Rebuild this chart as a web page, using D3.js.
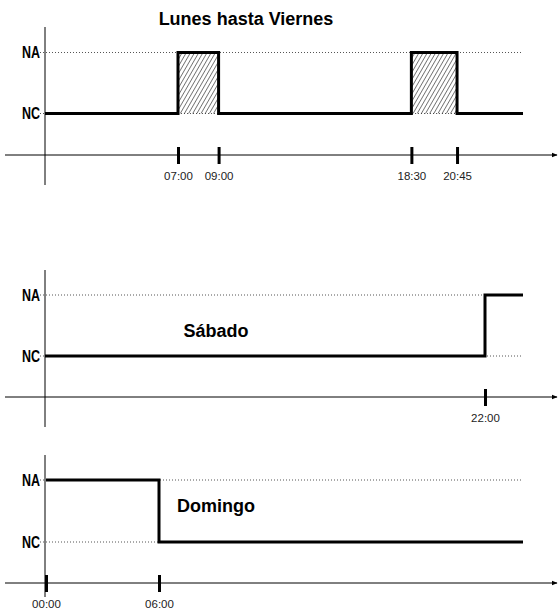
<!DOCTYPE html>
<html>
<head>
<meta charset="utf-8">
<script src="https://cdn.jsdelivr.net/npm/d3@7"></script>
<style>
  body { margin: 0; background: #fff; }
  svg { font-family: "Liberation Sans", Arial, sans-serif; }
</style>
</head>
<body>
<svg id="chart" width="558" height="614"></svg>
<script>
// estados y horarios (horas decimales)
const levels = ['NA', 'NC'];

const weekdayTimes = [0, 7, 9, 18.5, 20.75, 24];
const weekdayStates = ['NC', 'NA', 'NC', 'NA', 'NC', 'NC'];
const weekdayTicks = [7, 9, 18.5, 20.75];

const saturdayTimes = [0, 22, 24];
const saturdayStates = ['NC', 'NA', 'NA'];
const saturdayTicks = [22];

const sundayTimes = [0, 6, 24];
const sundayStates = ['NA', 'NC', 'NC'];
const sundayTicks = [0, 6];

const panels = [
    { title: 'Lunes hasta Viernes', times: weekdayTimes, states: weekdayStates, ticks: weekdayTicks,
      hatch: true, xd: [0, 7, 24], xr: [45, 178, 523], yNA: 52.5, yNC: 113.5, axisY: 155,
      top: 27, bottom: 185, tx: 246, ty: 25 },
    { title: 'Sábado', times: saturdayTimes, states: saturdayStates, ticks: saturdayTicks,
      hatch: false, xd: [0, 22, 24], xr: [45, 485, 523], yNA: 295, yNC: 356, axisY: 397,
      top: 270, bottom: 427, tx: 216, ty: 337 },
    { title: 'Domingo', times: sundayTimes, states: sundayStates, ticks: sundayTicks,
      hatch: false, xd: [0, 6, 24], xr: [46, 159, 523], yNA: 480, yNC: 542, axisY: 583,
      top: 455, bottom: 597, tx: 216, ty: 512 }
];

const svg = d3.select('#chart');
const defs = svg.append('defs');

defs.append('pattern')
    .attr('id', 'hatch')
    .attr('patternUnits', 'userSpaceOnUse')
    .attr('width', 3.6).attr('height', 4)
    .attr('patternTransform', 'rotate(30)')
    .append('line')
    .attr('x1', 0).attr('y1', 0).attr('x2', 0).attr('y2', 4)
    .attr('stroke', '#000').attr('stroke-width', 1);

defs.append('marker')
    .attr('id', 'arrow')
    .attr('viewBox', '0 0 10 10')
    .attr('refX', 9).attr('refY', 5)
    .attr('markerWidth', 6).attr('markerHeight', 6)
    .attr('markerUnits', 'userSpaceOnUse')
    .attr('orient', 'auto')
    .append('path')
    .attr('d', 'M0,1 L10,5 L0,9 Z')
    .attr('fill', '#000');

function fmtHour(h) {
    const hh = Math.floor(h);
    const mm = Math.round((h - hh) * 60);
    return String(hh).padStart(2, '0') + ':' + String(mm).padStart(2, '0');
}

panels.forEach(function (p) {
    const x = d3.scaleLinear().domain(p.xd).range(p.xr);
    const y = d3.scalePoint().domain(levels).range([p.yNA, p.yNC]);
    const g = svg.append('g');
    const xEnd = x(24);

    // lineas punteadas de referencia
    g.selectAll('.ref')
        .data(levels)
        .enter().append('line')
        .attr('class', 'ref')
        .attr('x1', 40).attr('x2', xEnd)
        .attr('y1', d => y(d)).attr('y2', d => y(d))
        .attr('stroke', '#555')
        .attr('stroke-width', 1)
        .attr('stroke-dasharray', '1,2');

    // etiquetas NA / NC
    g.selectAll('.lvl')
        .data(levels)
        .enter().append('text')
        .attr('class', 'lvl')
        .attr('x', 40)
        .attr('y', d => y(d) + 5.5)
        .attr('text-anchor', 'end')
        .attr('font-size', 16)
        .attr('font-weight', 'bold')
        .attr('textLength', 18)
        .attr('lengthAdjust', 'spacingAndGlyphs')
        .text(d => d);

    // eje vertical
    g.append('line')
        .attr('x1', 45).attr('x2', 45)
        .attr('y1', p.top).attr('y2', p.bottom)
        .attr('stroke', '#000').attr('stroke-width', 1);

    // eje horizontal con flecha
    g.append('line')
        .attr('x1', 5).attr('x2', 557)
        .attr('y1', p.axisY).attr('y2', p.axisY)
        .attr('stroke', '#000').attr('stroke-width', 1)
        .attr('marker-end', 'url(#arrow)');

    const axis = d3.axisBottom(x)
        .tickValues(p.ticks)
        .tickFormat(fmtHour)
        .tickSize(0);
    const ax = g.append('g')
        .attr('transform', 'translate(0,' + p.axisY + ')')
        .call(axis);
    ax.select('.domain').remove();
    ax.selectAll('.tick line')
        .attr('y1', -8).attr('y2', 9)
        .attr('stroke', '#000')
        .attr('stroke-width', 3);
    ax.selectAll('.tick text')
        .attr('y', 25).attr('dy', 0)
        .attr('font-family', '"Liberation Sans", Arial, sans-serif')
        .attr('font-size', 11.5)
        .attr('fill', '#222');

    const pts = p.times.map((t, i) => [t, p.states[i]]);

    // zonas rayadas (NA)
    if (p.hatch) {
        const spans = pts.slice(0, -1)
            .map((d, i) => [d[0], pts[i + 1][0], d[1]])
            .filter(d => d[2] === 'NA');
        g.selectAll('.hatch')
            .data(spans)
            .enter().append('rect')
            .attr('class', 'hatch')
            .attr('x', d => x(d[0]))
            .attr('width', d => x(d[1]) - x(d[0]))
            .attr('y', y('NA'))
            .attr('height', y('NC') - y('NA'))
            .attr('fill', 'url(#hatch)');
    }

    const line = d3.line()
        .x(d => x(d[0]))
        .y(d => y(d[1]))
        .curve(d3.curveStepAfter);

    g.append('path')
        .datum(pts)
        .attr('d', line)
        .attr('fill', 'none')
        .attr('stroke', '#000')
        .attr('stroke-width', 3)
        .attr('stroke-linejoin', 'miter');

    g.append('text')
        .attr('x', p.tx).attr('y', p.ty)
        .attr('text-anchor', 'middle')
        .attr('font-size', 18)
        .attr('font-weight', 'bold')
        .text(p.title);
});
</script>
</body>
</html>
